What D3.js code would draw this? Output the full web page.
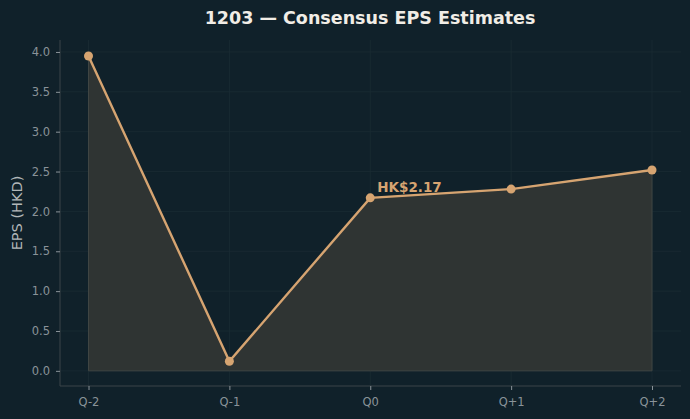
<!DOCTYPE html>
<html>
<head>
<meta charset="utf-8">
<script src="https://cdn.jsdelivr.net/npm/d3@7"></script>
<style>
  body { margin: 0; background: #10212a; }
  svg { display: block; font-family: "DejaVu Sans", sans-serif; }
</style>
</head>
<body>
<svg id="chart" width="690" height="419"></svg>
<script>
// Quarters and consensus EPS values
const quarters = ["Q-2", "Q-1", "Q0", "Q+1", "Q+2"];
const eps = [3.95, 0.12, 2.17, 2.28, 2.52];
const yTicks = [0.0, 0.5, 1.0, 1.5, 2.0, 2.5, 3.0, 3.5, 4.0];
const title = "1203 \u2014 Consensus EPS Estimates";
const highlight = "HK$2.17";

const svg = d3.select("#chart");
const margin = {left: 60, right: 9, top: 40, bottom: 33};
const W = 690, H = 419;

svg.append("rect").attr("width", W).attr("height", H).attr("fill", "#10212a");

// Scales
const x = d3.scalePoint().domain(quarters).range([88.5, 652]);
const y = d3.scaleLinear().domain([-0.19, 4.15]).range([H - margin.bottom, margin.top]);

// Grid lines
const grid = svg.append("g");
grid.selectAll(".gy").data(yTicks).enter().append("line")
    .attr("x1", margin.left).attr("x2", W - margin.right)
    .attr("y1", d => y(d)).attr("y2", d => y(d))
    .attr("stroke", "#1a2c33").attr("stroke-width", 0.8);
grid.selectAll(".gx").data(quarters).enter().append("line")
    .attr("x1", d => x(d)).attr("x2", d => x(d))
    .attr("y1", margin.top).attr("y2", H - margin.bottom)
    .attr("stroke", "#1a2c33").attr("stroke-width", 0.8);

// Area under the line
const data = quarters.map((q, i) => ({q: q, v: eps[i]}));
const area = d3.area().x(d => x(d.q)).y0(y(0)).y1(d => y(d.v));
svg.append("path").datum(data)
    .attr("d", area)
    .attr("fill", "#2f3433")
    .attr("stroke", "#3f4543")
    .attr("stroke-width", 1);

// Line
const line = d3.line().x(d => x(d.q)).y(d => y(d.v));
svg.append("path").datum(data)
    .attr("d", line)
    .attr("fill", "none")
    .attr("stroke", "#d6a471")
    .attr("stroke-width", 2.4);

svg.selectAll(".pt").data(data).enter().append("circle")
    .attr("cx", d => x(d.q)).attr("cy", d => y(d.v))
    .attr("r", 4.5).attr("fill", "#d6a471");

// Axes
const xAxis = svg.append("g")
    .attr("transform", `translate(0,${H - margin.bottom})`)
    .call(d3.axisBottom(x).tickSize(4).tickPadding(8));
const yAxis = svg.append("g")
    .attr("transform", `translate(${margin.left},0)`)
    .call(d3.axisLeft(y).tickValues(yTicks).tickFormat(d3.format(".1f")).tickSize(4).tickPadding(6));

[xAxis, yAxis].forEach(a => {
    a.select(".domain").attr("stroke", "#3a4549");
    a.selectAll(".tick line").attr("stroke", "#8a9399");
    a.selectAll(".tick text").attr("fill", "#8a9399").style("font-size", "11.5px")
        .style("font-family", "DejaVu Sans, sans-serif");
});
xAxis.select(".domain").attr("d", `M${margin.left},0H${W - margin.right}`);
yAxis.select(".domain").attr("d", `M0,${margin.top}V${H - margin.bottom}`);

// Y label
svg.append("text")
    .attr("transform", `translate(22,${(margin.top + H - margin.bottom) / 2}) rotate(-90)`)
    .attr("text-anchor", "middle")
    .attr("fill", "#b2b7b9")
    .style("font-size", "14.5px")
    .text("EPS (HKD)");

// Title
svg.append("text")
    .attr("x", 370).attr("y", 24)
    .attr("text-anchor", "middle")
    .attr("fill", "#f1ede6")
    .style("font-size", "17.5px").style("font-weight", "bold")
    .text(title);

// Annotation at Q0
svg.append("text")
    .attr("x", x("Q0") + 7).attr("y", y(eps[2]) - 6)
    .attr("fill", "#d6a471")
    .style("font-size", "13.5px").style("font-weight", "bold")
    .text(highlight);
</script>
</body>
</html>
